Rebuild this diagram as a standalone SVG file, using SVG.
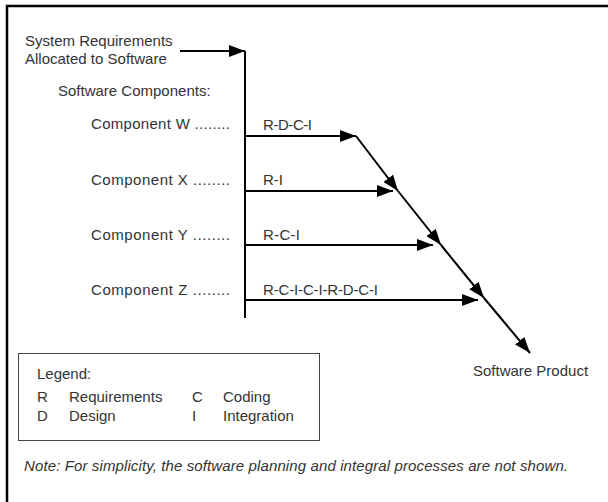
<svg xmlns="http://www.w3.org/2000/svg" width="608" height="502" viewBox="0 0 608 502">
<style>
text{font-family:"Liberation Sans",Arial,sans-serif;font-size:15px;fill:#333}
.it{font-style:italic}
.ln{stroke:#000;stroke-width:2;fill:none}
</style>
<defs>
<marker id="ah" markerUnits="userSpaceOnUse" markerWidth="17" markerHeight="12" refX="16" refY="6" orient="auto">
<path d="M0,0 L16,6 L0,12 z" fill="#000"/>
</marker>
</defs>
<rect width="608" height="502" fill="#fff"/>
<g id="frame">
<path d="M7,502 V6 H608" stroke="#000" stroke-width="2.5" fill="none"/>
</g>
<g id="sysreq">
<text x="25" y="46">System Requirements</text>
<text x="25" y="64">Allocated to Software</text>
</g>
<g id="swcomp"><text x="58" y="96">Software Components:</text></g>
<g id="compW"><text x="91" y="129" textLength="139">Component W ........</text><text x="263" y="130" textLength="49">R-D-C-I</text></g>
<g id="compX"><text x="91" y="185" textLength="139">Component X ........</text><text x="263" y="185">R-I</text></g>
<g id="compY"><text x="91" y="240" textLength="139">Component Y ........</text><text x="263" y="240" textLength="37">R-C-I</text></g>
<g id="compZ"><text x="91" y="295" textLength="139">Component Z ........</text><text x="263" y="295" textLength="115">R-C-I-C-I-R-D-C-I</text></g>
<g id="product"><text x="473" y="376">Software Product</text></g>
<g id="legend">
<rect x="18.5" y="353.5" width="301" height="87" fill="none" stroke="#444" stroke-width="1"/>
<text x="37" y="379">Legend:</text>
<text x="37" y="402">R</text><text x="69" y="402">Requirements</text>
<text x="192" y="402">C</text><text x="223" y="402">Coding</text>
<text x="37" y="421">D</text><text x="69" y="421">Design</text>
<text x="192" y="421">I</text><text x="223" y="421">Integration</text>
</g>
<g id="note"><text class="it" x="24" y="471" textLength="544">Note: For simplicity, the software planning and integral processes are not shown.</text></g>
<g id="connectors">
<path class="ln" d="M180,51 H245" marker-end="url(#ah)"/>
<path class="ln" d="M245,51 V318"/>
<path class="ln" d="M245,136 H356" marker-end="url(#ah)"/>
<path class="ln" d="M245,191 H393" marker-end="url(#ah)"/>
<path class="ln" d="M245,245 H433" marker-end="url(#ah)"/>
<path class="ln" d="M245,300 H478" marker-end="url(#ah)"/>
<path class="ln" d="M356,136 L398,191" marker-end="url(#ah)"/>
<path class="ln" d="M398,191 L441,245" marker-end="url(#ah)"/>
<path class="ln" d="M441,245 L484,298" marker-end="url(#ah)"/>
<path class="ln" d="M484,298 L530,353" marker-end="url(#ah)"/>
</g>
</svg>
